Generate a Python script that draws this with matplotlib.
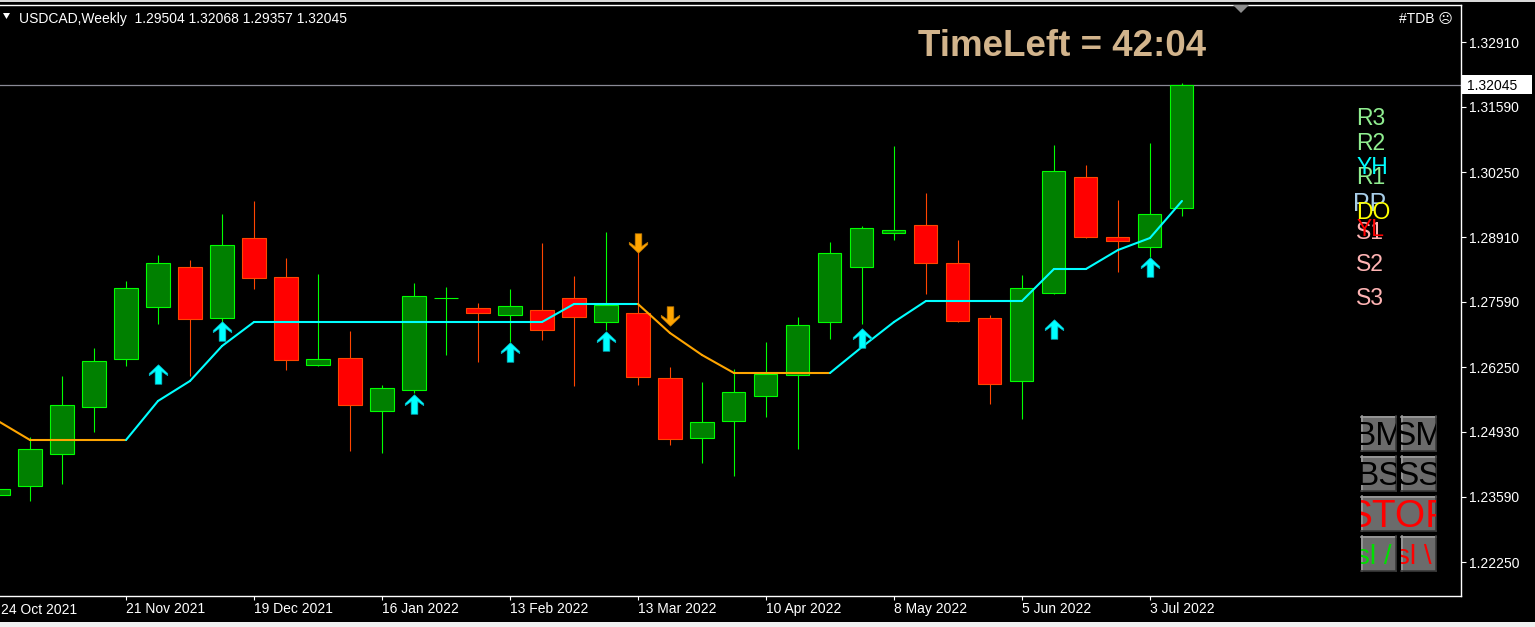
import matplotlib
matplotlib.use('Agg')
import matplotlib.pyplot as plt
from matplotlib.patches import Rectangle, Polygon
from matplotlib.path import Path
from matplotlib.transforms import blended_transform_factory

plt.rcParams['font.family'] = ['Liberation Sans', 'DejaVu Sans']

# USDCAD weekly bars, week of 24 Oct 2021 .. 10 Jul 2022
opens = [1.23630, 1.23814, 1.24470, 1.25434, 1.26418, 1.27484, 1.28304, 1.27258,
         1.28898, 1.28099, 1.26295, 1.26438, 1.25352, 1.25782, 1.27665, 1.27463,
         1.27320, 1.27422, 1.27668, 1.27176, 1.27361, 1.26028, 1.24798, 1.25147,
         1.25659, 1.26090, 1.27176, 1.28304, 1.29001, 1.29165, 1.28386, 1.27258,
         1.25967, 1.27771, 1.30149, 1.28919, 1.28714, 1.29504]
highs = [1.23794, 1.24819, 1.26069, 1.26643, 1.28017, 1.28550, 1.28447, 1.29390,
         1.29657, 1.28488, 1.28160, 1.26992, 1.25885, 1.27976, 1.27894, 1.27566,
         1.27853, 1.28796, 1.28119, 1.29021, 1.28611, 1.26254, 1.25946, 1.26213,
         1.26766, 1.27279, 1.28816, 1.29144, 1.30784, 1.29821, 1.28857, 1.27320,
         1.28140, 1.30805, 1.30395, 1.29677, 1.30846, 1.32068]
lows = [1.23589, 1.23507, 1.23855, 1.24921, 1.26274, 1.27135, 1.26069, 1.27176,
        1.27853, 1.26192, 1.26274, 1.24532, 1.24491, 1.25721, 1.26500, 1.26356,
        1.26766, 1.26807, 1.25864, 1.27012, 1.25885, 1.24655, 1.24286, 1.24019,
        1.25229, 1.24573, 1.26828, 1.27135, 1.28857, 1.27750, 1.27176, 1.25495,
        1.25188, 1.27750, 1.28898, 1.28201, 1.28509, 1.29357]
closes = [1.23753, 1.24573, 1.25475, 1.26377, 1.27873, 1.28386, 1.27238, 1.28755,
          1.28078, 1.26397, 1.26418, 1.25475, 1.25823, 1.27709, 1.27668, 1.27361,
          1.27504, 1.27012, 1.27279, 1.27525, 1.26049, 1.24778, 1.25126, 1.25741,
          1.26110, 1.27115, 1.28591, 1.29103, 1.29062, 1.28386, 1.27197, 1.25905,
          1.27873, 1.30272, 1.28919, 1.28837, 1.29390, 1.32045]

# trend indicator line and its direction (1 = up / cyan, -1 = down / orange)
trend_line = [1.25147, 1.24757, 1.24757, 1.24757, 1.24757, 1.25557, 1.25967, 1.26684,
              1.27176, 1.27176, 1.27176, 1.27176, 1.27176, 1.27176, 1.27176, 1.27176,
              1.27176, 1.27176, 1.27545, 1.27545, 1.27545, 1.26951, 1.26500, 1.26131,
              1.26131, 1.26131, 1.26131, 1.26664, 1.27176, 1.27607, 1.27607, 1.27607,
              1.27607, 1.28263, 1.28263, 1.28652, 1.28898, 1.29657]
trend_dir = [-1] * 5 + [1] * 16 + [-1] * 6 + [1] * 11

buy_idx = [5, 7, 13, 16, 19, 27, 33, 36]
buy_px = [1.26100, 1.26992, 1.25495, 1.26561, 1.26787, 1.26858, 1.27033, 1.28314]
sell_idx = [20, 21]
sell_px = [1.28796, 1.27299]

week_ticks = list(range(0, 38, 4))
week_labels = ['24 Oct 2021', '21 Nov 2021', '19 Dec 2021', '16 Jan 2022', '13 Feb 2022',
               '13 Mar 2022', '10 Apr 2022', '8 May 2022', '5 Jun 2022', '3 Jul 2022']
price_ticks = [1.32910, 1.31590, 1.30250, 1.28910, 1.27590, 1.26250, 1.24930, 1.23590, 1.22250]

pivot_names = ['R3', 'R2', 'R1', 'PP', 'S1', 'S2', 'S3', 'YH', 'DO', 'YL']
pivot_prices = [1.31409, 1.30897, 1.30190, 1.29646, 1.29062, 1.28416, 1.27719,
                1.30395, 1.29482, 1.29134]

pivot_style = {'R3': '#90EE90', 'R2': '#90EE90', 'R1': '#90EE90', 'PP': '#A8CDE8',
               'S1': '#FFB4B4', 'S2': '#FFB4B4', 'S3': '#FFB4B4',
               'YH': '#00FFFF', 'DO': '#FFFF00', 'YL': '#FF0000'}

BULL_FACE, BULL_EDGE = '#008000', '#00FF00'
BEAR_FACE, BEAR_EDGE = '#FF0000', '#FF4500'
UP_COL, DN_COL = '#00FFFF', '#FFA500'
BODY_W = 0.72

W, H = 1535, 627
fig = plt.figure(figsize=(W / 100, H / 100), dpi=100, facecolor='black')
ax = fig.add_axes([0, 31 / H, 1461 / W, 591 / H])
ax.set_facecolor('black')
ax.set_xlim(0.0625, 45.72)
ax.set_ylim(1.21559, 1.33675)

for side in ['top', 'right', 'bottom']:
    ax.spines[side].set_color('white')
    ax.spines[side].set_linewidth(1.0)
ax.spines['left'].set_visible(False)

# candles
for i, (o, h, l, c) in enumerate(zip(opens, highs, lows, closes)):
    bull = c >= o
    edge = BULL_EDGE if bull else BEAR_EDGE
    face = BULL_FACE if bull else BEAR_FACE
    ax.vlines(i, l, h, color=edge, lw=0.8, zorder=2)
    ax.add_patch(Rectangle((i - BODY_W / 2, min(o, c)), BODY_W, abs(c - o),
                           facecolor=face, edgecolor=edge, lw=0.8, zorder=3))

# trend line, coloured per segment
for i in range(1, len(trend_line)):
    col = UP_COL if trend_dir[i] > 0 else DN_COL
    ax.plot([i - 1, i], [trend_line[i - 1], trend_line[i]], color=col, lw=1.5,
            solid_capstyle='round', zorder=4)

# signal arrows
up_arrow = Path([(0, 1), (0.95, 0.1), (0.95, -0.12), (0.34, 0.3), (0.34, -1),
                 (-0.34, -1), (-0.34, 0.3), (-0.95, -0.12), (-0.95, 0.1), (0, 1)])
dn_arrow = Path([(x, -y) for x, y in up_arrow.vertices])
ax.plot(buy_idx, buy_px, ls='none', marker=up_arrow, ms=14, mfc=UP_COL,
        mec='#00B8C8', mew=0.5, zorder=5)
ax.plot(sell_idx, sell_px, ls='none', marker=dn_arrow, ms=14, mfc=DN_COL,
        mec='#C07800', mew=0.5, zorder=5)

# current price line
ax.axhline(closes[-1], color='#8A8A96', lw=0.9, zorder=1)

# pivot labels
for name, p in zip(pivot_names, pivot_prices):
    fs = 18 if name == 'PP' else 16.5
    x0 = 42.35 if name == 'PP' else 42.45
    ax.text(x0, p, name, color=pivot_style[name], fontsize=fs, ha='left',
            va='center_baseline', zorder=6)

# axes ticks
ax.yaxis.tick_right()
ax.set_yticks(price_ticks, [f'{v:.5f}' for v in price_ticks])
ax.set_xticks(week_ticks[1:], week_labels[1:], ha='left')
ax.tick_params(axis='y', colors='white', length=3.5, width=0.8, pad=2, labelsize=10)
ax.tick_params(axis='x', colors='white', length=3, width=0.8, pad=1.5, labelsize=10)

# overlay in pixel coordinates for terminal decorations
ui = fig.add_axes([0, 0, 1, 1], zorder=10)
ui.set_xlim(0, W)
ui.set_ylim(H, 0)
ui.axis('off')

ui.add_patch(Rectangle((0, 0), W, 1.5, facecolor='#D8D8D8', edgecolor='none'))
ui.add_patch(Rectangle((0, 622), W, 5, facecolor='#F0F0F0', edgecolor='none'))
ui.add_patch(Polygon([(1233, 5), (1249, 5), (1241, 13)], closed=True,
                     facecolor='#8C8C8C', edgecolor='none'))

ui.add_patch(Polygon([(3, 13), (10, 13), (6.5, 19)], closed=True,
                     facecolor='white', edgecolor='none'))
ui.text(19, 22.5, 'USDCAD,Weekly  ' + ' '.join(f'{v:.5f}' for v in
        (opens[-1], highs[-1], lows[-1], closes[-1])),
        color='white', fontsize=10, va='baseline')
ui.text(1399, 22.5, '#TDB \u2639', color='white', fontsize=10, va='baseline')
ui.text(918, 56, 'TimeLeft = 42:04', color='#D2B48C', fontsize=26.5,
        fontweight='bold', va='baseline')
ui.text(1, 613.5, week_labels[0], color='white', fontsize=10, va='baseline')

# current price tag on the price scale
pt = blended_transform_factory(ui.transData, ax.transData)
ui.add_patch(Rectangle((1462, closes[-1] - 0.00185), 70, 0.0037, transform=pt,
                       facecolor='white', edgecolor='none', clip_on=False))
ui.text(1467, closes[-1], f'{closes[-1]:.5f}', transform=pt, color='black',
        fontsize=10, va='center_baseline', clip_on=False)


def button(x, y, w, h, label, color, size, base, ha='center', tx=None):
    r = Rectangle((x, y), w, h, facecolor='#6B6B6B', edgecolor='none')
    ui.add_patch(r)
    if tx is None:
        tx = x + w / 2
    t = ui.text(tx, y + base, label, color=color, fontsize=size, ha=ha,
                va='baseline', clip_on=True)
    t.set_clip_path(r)
    ui.plot([x, x + w], [y + 0.5, y + 0.5], color='#9C9C9C', lw=1.2)
    ui.plot([x + 0.5, x + 0.5], [y, y + h], color='#9C9C9C', lw=1.2)
    ui.plot([x, x + w], [y + h - 0.5, y + h - 0.5], color='#3A3A3A', lw=1.2)
    ui.plot([x + w - 0.5, x + w - 0.5], [y, y + h], color='#3A3A3A', lw=1.2)


button(1361, 416, 35, 35, 'BM', 'black', 24, 29)
button(1401, 416, 35, 35, 'SM', 'black', 24, 29)
button(1361, 456, 35, 35, 'BS', 'black', 24, 29)
button(1401, 456, 35, 35, 'SS', 'black', 24, 29)
button(1361, 496, 75, 35, 'STOP', '#FF0000', 28, 31)
button(1361, 536, 35, 35, 'sl /', '#00E000', 20, 28, ha='left', tx=1356)
button(1401, 536, 35, 35, 'sl \\', '#FF0000', 20, 28, ha='left', tx=1396)

fig.savefig('out.png', dpi=100, facecolor='black')
